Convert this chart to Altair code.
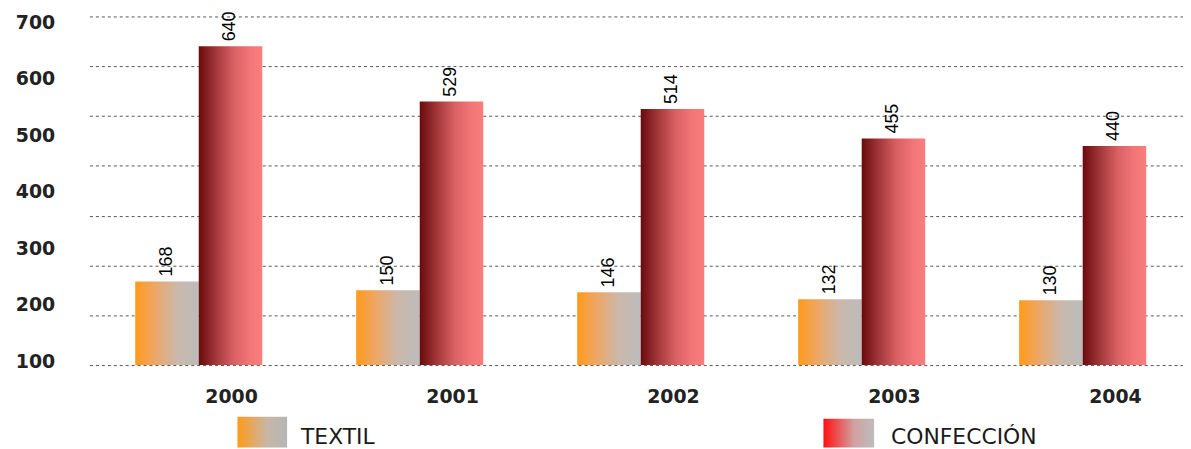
import altair as alt
import pandas as pd

# ---- data ----
years = ["2000", "2001", "2002", "2003", "2004"]
series = ["TEXTIL", "CONFECCIÓN"]
textil = [168, 150, 146, 132, 130]
confeccion = [640, 529, 514, 455, 440]
grid_values = [0, 100, 200, 300, 400, 500, 600, 700]
y_tick_labels = [100, 200, 300, 400, 500, 600, 700]

rows = []
for y, t, c in zip(years, textil, confeccion):
    rows.append({"year": y, "series": series[0], "value": t})
    rows.append({"year": y, "series": series[1], "value": c})
df = pd.DataFrame(rows)
ticks_df = pd.DataFrame({"tick": y_tick_labels})

# ---- styles ----
def grad(stops):
    return {"gradient": "linear", "x1": 0, "x2": 1, "y1": 0, "y2": 0,
            "stops": [{"offset": o, "color": c} for o, c in stops]}

grad_textil = grad([(0, "#ff9a1a"), (0.3, "#eea665"), (0.65, "#cbb8aa"), (1, "#bcbcbc")])
grad_conf = grad([(0, "#6a0a0c"), (0.25, "#9e3436"), (0.55, "#d96063"), (0.8, "#f27577"), (1, "#fb7e7e")])
grad_leg_textil = grad([(0, "#ff9a1a"), (0.6, "#c8b6a8"), (1, "#b6b6b6")])
grad_leg_conf = grad([(0, "#ff1010"), (0.6, "#d2a0a0"), (1, "#bdbdbd")])

x_axis = alt.Axis(title=None, labelAngle=0, domain=False, ticks=False,
                  labelPadding=32, labelBaseline="middle", labelOffset=33,
                  labelFont="DejaVu Sans", labelFontWeight="bold",
                  labelFontSize=19, labelColor="#222222")
grid_axis = alt.Axis(values=grid_values, orient="right", grid=True, gridDash=[3, 3],
                     gridColor="#555555", gridWidth=1, labels=False, ticks=False,
                     domain=False, title=None)

x_scale = alt.Scale(domain=years, paddingInner=0.425, paddingOuter=0.1935, align=0.57)
x_enc = alt.X("year:N", scale=x_scale, axis=x_axis)
xo_enc = alt.XOffset("series:N", scale=alt.Scale(domain=series, paddingInner=0, paddingOuter=0))
y_enc = alt.Y("value:Q", scale=alt.Scale(domain=[0, 700], nice=False), axis=grid_axis)

base = alt.Chart(df).encode(x=x_enc, xOffset=xo_enc, y=y_enc)

bars_t = base.transform_filter(alt.datum.series == series[0]).mark_bar(color=grad_textil)
bars_c = base.transform_filter(alt.datum.series == series[1]).mark_bar(color=grad_conf)

value_labels = base.mark_text(
    angle=270, align="left", baseline="middle", dx=5,
    font="Liberation Sans Narrow, Liberation Sans", fontSize=18, color="#000000"
).encode(text=alt.Text("value:Q"))

main = alt.layer(bars_t, bars_c, value_labels)

# the y labels in the original sit on their own (uneven) scale
label_axis = alt.Axis(values=y_tick_labels, orient="left", grid=False, domain=False,
                      ticks=False, labelPadding=32, labelFont="DejaVu Sans",
                      labelFontWeight="bold", labelFontSize=19, labelColor="#222222",
                      title=None)
tick_layer = alt.Chart(ticks_df).mark_point(opacity=0, size=0).encode(
    y=alt.Y("tick:Q", scale=alt.Scale(domain=[100, 700], range=[347, 6],
                                      nice=False, zero=False), axis=label_axis)
)

# ---- legend ----
leg_t = alt.Chart(alt.Data(values=[{"s": series[0]}]))
leg_c = alt.Chart(alt.Data(values=[{"s": series[1]}]))
legend_font = dict(font="DejaVu Sans", fontSize=22, color="#1a1a1a", align="left", baseline="middle")

sw_t = leg_t.mark_rect(color=grad_leg_textil).encode(
    x=alt.value(152), x2=alt.value(202), y=alt.value(403), y2=alt.value(434))
tx_t = leg_t.mark_text(**legend_font).encode(
    x=alt.value(216), y=alt.value(423), text="s:N")
sw_c = leg_c.mark_rect(color=grad_leg_conf).encode(
    x=alt.value(742), x2=alt.value(793), y=alt.value(405), y2=alt.value(434))
tx_c = leg_c.mark_text(**legend_font).encode(
    x=alt.value(810), y=alt.value(423), text="s:N")

chart = alt.layer(main, tick_layer, sw_t, tx_t, sw_c, tx_c).resolve_scale(
    y="independent"
).properties(
    width=1104, height=351,
    autosize=alt.AutoSizeParams(type="none"),
    padding={"left": 79, "top": 7, "right": 0, "bottom": 83},
    background="white",
).configure_view(stroke=None)

chart.save("out.html", embed_options={"renderer": "svg", "actions": False})
